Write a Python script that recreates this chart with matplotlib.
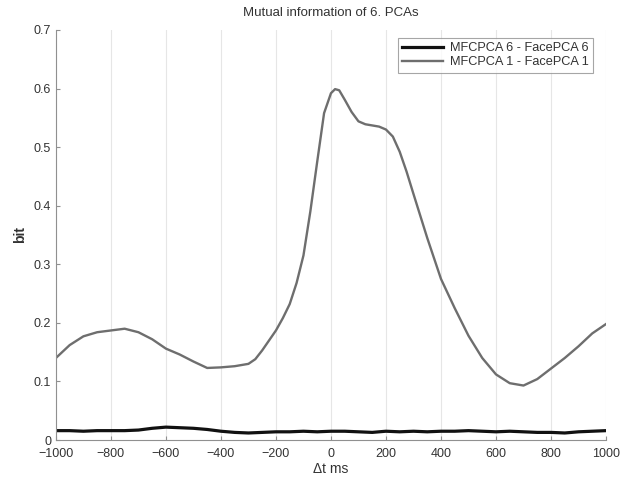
import numpy as np
import matplotlib
matplotlib.use('Agg')
import matplotlib.pyplot as plt

plt.rcParams['font.family'] = ['Liberation Sans', 'DejaVu Sans']

# MFCPCA 1 - FacePCA 1 (grau)
t1 = [-1000, -950, -900, -850, -800, -750, -700, -650, -600, -550, -500, -450,
      -400, -350, -300, -275, -250, -200, -175, -150, -125, -100, -75, -50, -25,
      0, 15, 30, 50, 75, 100, 125, 150, 175, 200, 225, 250, 275, 300,
      350, 400, 450, 500, 550, 600, 650, 700, 750, 800, 850, 900, 950, 1000]
mi1 = [0.140, 0.162, 0.177, 0.184, 0.187, 0.190, 0.184, 0.172, 0.156, 0.146, 0.134, 0.123,
       0.124, 0.126, 0.130, 0.138, 0.153, 0.187, 0.208, 0.232, 0.268, 0.315, 0.390, 0.475, 0.558,
       0.592, 0.599, 0.597, 0.581, 0.560, 0.544, 0.539, 0.537, 0.535, 0.530, 0.518, 0.492, 0.458, 0.420,
       0.345, 0.275, 0.225, 0.178, 0.140, 0.112, 0.097, 0.093, 0.104, 0.122, 0.140, 0.160, 0.182, 0.198]

# MFCPCA 6 - FacePCA 6 (schwarz)
t6 = list(range(-1000, 1001, 50))
mi6 = [0.016, 0.016, 0.015, 0.016, 0.016, 0.016, 0.017, 0.020, 0.022, 0.021, 0.020,
       0.018, 0.015, 0.013, 0.012, 0.013, 0.014, 0.014, 0.015, 0.014, 0.015,
       0.015, 0.014, 0.013, 0.015, 0.014, 0.015, 0.014, 0.015, 0.015, 0.016,
       0.015, 0.014, 0.015, 0.014, 0.013, 0.013, 0.012, 0.014, 0.015, 0.016]

xticks = list(range(-1000, 1001, 200))

fig = plt.figure(figsize=(6.28, 4.83), dpi=100)
ax = fig.add_axes([0.089, 0.089, 0.876, 0.849])

ax.plot(t6, mi6, color='#111111', linewidth=2.3, label='MFCPCA 6 - FacePCA 6')
ax.plot(t1, mi1, color='#6e6e6e', linewidth=1.7, label='MFCPCA 1 - FacePCA 1')

ax.set_xlim(-1000, 1000)
ax.set_ylim(0, 0.7)
ax.set_xticks(xticks)
ax.set_yticks(np.arange(0, 0.71, 0.1))
ax.set_yticklabels(['0', '0.1', '0.2', '0.3', '0.4', '0.5', '0.6', '0.7'])
ax.xaxis.grid(True, color='#e6e6e6', linewidth=0.8)
ax.set_axisbelow(True)

for s in ['top', 'right']:
    ax.spines[s].set_visible(False)
for s in ['left', 'bottom']:
    ax.spines[s].set_color('#909090')
ax.tick_params(direction='in', length=3, color='#909090', labelcolor='#333333', labelsize=9)
ax.tick_params(axis='x', pad=6)

ax.set_title('Mutual information of 6. PCAs', fontsize=9.5, color='#333333', pad=10)
ax.set_xlabel('\u0394t ms', fontsize=10, color='#333333', labelpad=1)
ax.set_ylabel('bit', fontsize=10, color='#333333', fontweight='bold', labelpad=5)

leg = ax.legend(loc='upper right', bbox_to_anchor=(0.976, 0.981), borderaxespad=0,
                fontsize=9.2, frameon=True, fancybox=False, handlelength=3.2,
                borderpad=0.35, labelspacing=0.15, handletextpad=0.5)
leg.get_frame().set_edgecolor('#909090')
leg.get_frame().set_linewidth(0.8)
for txt in leg.get_texts():
    txt.set_color('#333333')

plt.savefig('out.png', dpi=100)
